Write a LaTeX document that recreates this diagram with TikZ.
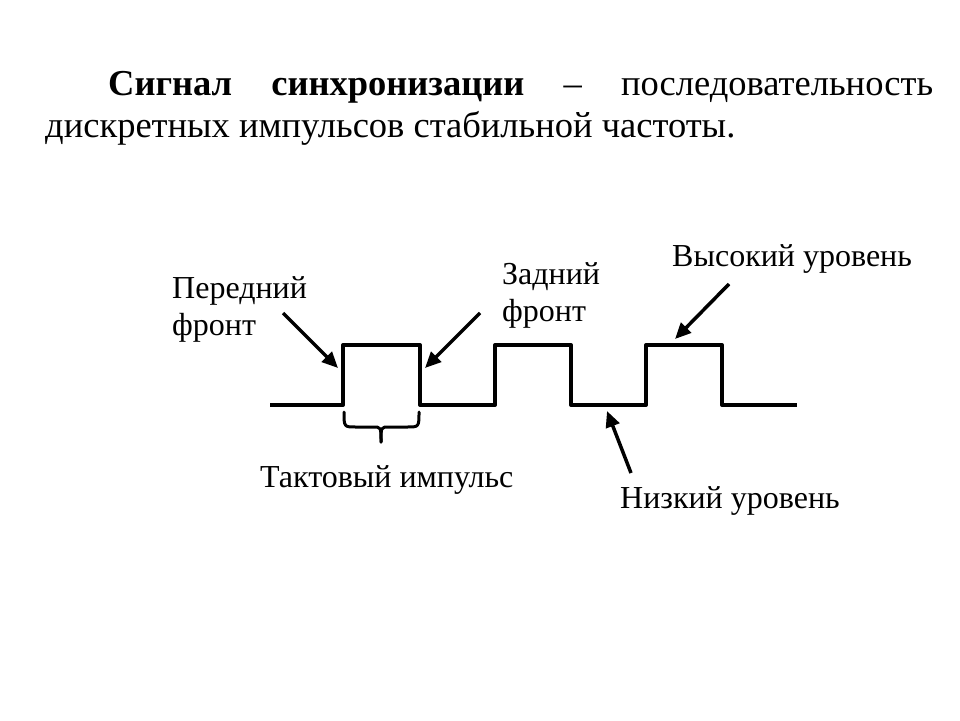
\documentclass[tikz,border=0pt]{standalone}
\usepackage{fontspec}
\setmainfont{Liberation Serif}
\usetikzlibrary{arrows.meta}
\tikzset{
  lbl/.style={anchor=base west, inner sep=0pt, font=\fontsize{32}{37}\selectfont, align=left},
  head/.style={anchor=base west, inner sep=0pt, font=\fontsize{36.5}{42}\selectfont},
  wave/.style={line width=4pt, line join=round},
  pointer/.style={line width=3.5pt, -{Triangle[length=16pt,width=14pt]}},
  brace/.style={line width=3pt, line join=round, line cap=round}
}
\begin{document}
\begin{tikzpicture}[x=1pt,y=-1pt]
\useasboundingbox (0,0) rectangle (960,720);
\fill[white] (0,0) rectangle (960,720);
% heading
\node[head] (h1) at (108,95) {\hbox to 825pt{\bfseries Сигнал\hfill синхронизации\hfill\mdseries –\hfill последовательность}};
\node[head] (h2) at (45,137) {дискретных импульсов стабильной частоты.};
% waveform
\draw[wave] (270,405) -- (343,405) -- (343,345) -- (420,345) -- (420,405)
  -- (495,405) -- (495,345) -- (571,345) -- (571,405)
  -- (646,405) -- (646,345) -- (722,345) -- (722,405) -- (797,405);
% brace
\draw[brace] (344,412) .. controls (344,427) .. (356,427) -- (373,427)
  .. controls (381,427) .. (381,442);
\draw[brace] (419,412) .. controls (419,427) .. (407,427) -- (389,427)
  .. controls (381,427) .. (381,442);
% labels
\node[lbl] (pf) at (172,335) {Передний\\фронт};
\node[lbl] (zf) at (502,321) {Задний\\фронт};
\node[lbl] (vu) at (672,266) {Высокий уровень};
\node[lbl] (ti) at (260,487) {Тактовый импульс};
\node[lbl] (nu) at (620,508) {Низкий уровень};
% arrow coordinates
\coordinate (pfs) at (283,313);
\coordinate (pft) at (338,368);
\coordinate (zfs) at (480,313);
\coordinate (zft) at (425,368);
\coordinate (vus) at (729,284);
\coordinate (vut) at (675,339);
\coordinate (nus) at (631,473);
\coordinate (nut) at (607,411);
\draw[pointer] (pfs) -- (pft);
\draw[pointer] (zfs) -- (zft);
\draw[pointer] (vus) -- (vut);
\draw[pointer] (nus) -- (nut);
\end{tikzpicture}
\end{document}
